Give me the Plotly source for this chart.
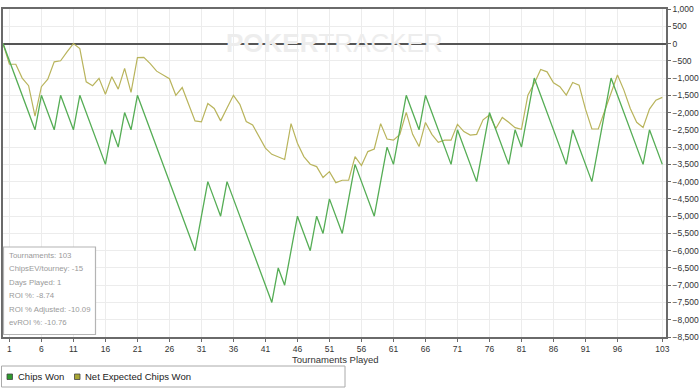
import plotly.graph_objects as go

# ---------------- data ----------------
tournaments = list(range(0, 104))

chips_won = [
    0, -500, -1000, -1500, -2000, -2500, -1500, -2000, -2500, -1500,
    -2000, -2500, -1500, -2000, -2500, -3000, -3500, -2500, -3000, -2000,
    -2500, -1500, -2000, -2500, -3000, -3500, -4000, -4500, -5000, -5500,
    -6000, -5000, -4000, -4500, -5000, -4000, -4500, -5000, -5500, -6000,
    -6500, -7000, -7500, -6500, -7000, -6000, -5000, -5500, -6000, -5000,
    -5500, -4500, -5000, -5500, -4500, -3500, -4000, -4500, -5000, -4000,
    -3000, -3500, -2500, -1500, -2000, -2500, -1500, -2000, -2500, -3000,
    -3500, -2500, -3000, -3500, -4000, -3000, -2000, -2500, -3000, -3500,
    -2500, -3000, -2000, -1000, -1500, -2000, -2500, -3000, -3500, -2500,
    -3000, -3500, -4000, -3000, -2000, -1000, -1500, -2000, -2500, -3000,
    -3500, -2500, -3000, -3500,
]

net_expected = [
    0, -600, -600, -1000, -1220, -2100, -1250, -1030, -530, -500,
    -240, 0, -145, -1110, -1220, -1010, -1470, -960, -1320, -720,
    -1415, -410, -400, -580, -800, -915, -1020, -1500, -1275, -1760,
    -2240, -2270, -1735, -1880, -2240, -1870, -1500, -1760, -2260, -2360,
    -2700, -3030, -3210, -3275, -3360, -2320, -2890, -3275, -3495, -3565,
    -3880, -3710, -4030, -3960, -3960, -3275, -3535, -3130, -3055, -2320,
    -2765, -2800, -2630, -1995, -2630, -2985, -2285, -2630, -2860, -2800,
    -2800, -2340, -2550, -2650, -2630, -2210, -2070, -2460, -2140, -2280,
    -2435, -2485, -1495, -1155, -750, -820, -1135, -1250, -1495, -1130,
    -1205, -1900, -2475, -2475, -1950, -1400, -910, -1350, -1880, -2280,
    -2430, -1900, -1640, -1560,
]

x_tick_vals = [1, 6, 11, 16, 21, 26, 31, 36, 41, 46, 51, 56, 61, 66, 71, 76, 81, 86, 91, 96, 103]
y_tick_vals = list(range(1000, -9000, -500))

stats_lines = [
    "Tournaments: 103",
    "ChipsEV/tourney: -15",
    "Days Played: 1",
    "ROI %: -8.74",
    "ROI % Adjusted: -10.09",
    "evROI %: -10.76",
]

series_names = ["Chips Won", "Net Expected Chips Won"]
line_colors = ["#55ad55", "#b9b45c"]
legend_colors = ["#2f9a2f", "#a9a634"]

# ---------------- layout geometry ----------------
W, H = 700, 388
L, R, T, B = 3, 34, 9, 51
PW, PH = W - L - R, H - T - B


def px(x):
    return (x - L) / PW


def py(y):
    return (H - B - y) / PH


FONT = "Liberation Sans, Arial, sans-serif"

fig = go.Figure()
fig.add_trace(go.Scatter(x=tournaments, y=net_expected, mode="lines",
                         line=dict(color=line_colors[1], width=1.2),
                         name=series_names[1], showlegend=False))
fig.add_trace(go.Scatter(x=tournaments, y=chips_won, mode="lines",
                         line=dict(color=line_colors[0], width=1.3),
                         name=series_names[0], showlegend=False))

annotations = []
shapes = []

# watermark
annotations.append(dict(x=px(334), y=py(43), xref="paper", yref="paper",
                        text="<b>POKER</b>TRACKER", showarrow=False,
                        font=dict(family=FONT, size=26, color="#ededed"),
                        xanchor="center", yanchor="middle"))

# x-axis title
annotations.append(dict(x=px(335), y=py(359), xref="paper", yref="paper",
                        text="Tournaments Played", showarrow=False,
                        font=dict(family=FONT, size=9.5, color="#333333"),
                        xanchor="center", yanchor="middle"))

# stats box
shapes.append(dict(type="rect", xref="paper", yref="paper",
                   x0=px(3.5), x1=px(95.5), y0=py(334.5), y1=py(247),
                   line=dict(color="#b4b4b4", width=1.2), fillcolor="white", layer="above"))
for i, s in enumerate(stats_lines):
    annotations.append(dict(x=px(7), y=py(255 + i * 13.5), xref="paper", yref="paper",
                            text=s, showarrow=False,
                            font=dict(family=FONT, size=7.8, color="#9a9a9a"),
                            xanchor="left", yanchor="middle"))

# legend (bottom box)
shapes.append(dict(type="rect", xref="paper", yref="paper",
                   x0=px(1.5), x1=px(345), y0=py(387), y1=py(366),
                   line=dict(color="#aaaaaa", width=1), fillcolor="white"))
leg_x = [7, 74.5]
for i, name in enumerate(series_names):
    x0 = leg_x[i]
    shapes.append(dict(type="rect", xref="paper", yref="paper",
                       x0=px(x0), x1=px(x0 + 5.5), y0=py(379.5), y1=py(374),
                       line=dict(color="#444444", width=0.8), fillcolor=legend_colors[i]))
    annotations.append(dict(x=px(x0 + 8.5), y=py(376.5), xref="paper", yref="paper",
                            text=name, showarrow=False,
                            font=dict(family=FONT, size=9.5, color="#222222"),
                            xanchor="left", yanchor="middle"))

fig.update_layout(
    width=W, height=H,
    margin=dict(l=L, r=R, t=T, b=B, pad=0),
    paper_bgcolor="white", plot_bgcolor="white",
    showlegend=False,
    font=dict(family=FONT, size=8.5, color="#333333"),
    annotations=annotations,
    shapes=shapes,
    xaxis=dict(range=[0, 103.58], tickvals=x_tick_vals,
               ticktext=[str(v) for v in x_tick_vals],
               showgrid=True, gridcolor="#ececec", gridwidth=1,
               showline=True, linecolor="#6a6a6a", linewidth=1.5, mirror=True,
               ticks="outside", ticklen=3, tickcolor="#6a6a6a",
               tickfont=dict(family=FONT, size=8.5, color="#333333"),
               zeroline=False, automargin=False, fixedrange=True),
    yaxis=dict(range=[-8500, 1000], side="right", tickvals=y_tick_vals,
               tickformat=",d",
               showgrid=True, gridcolor="#ececec", gridwidth=1,
               showline=True, linecolor="#6a6a6a", linewidth=1.5, mirror=True,
               ticks="outside", ticklen=3, tickcolor="#6a6a6a",
               tickfont=dict(family=FONT, size=8.5, color="#333333"),
               zeroline=True, zerolinecolor="#555555", zerolinewidth=1.5,
               automargin=False, fixedrange=True),
)

fig.write_html("out.html")
